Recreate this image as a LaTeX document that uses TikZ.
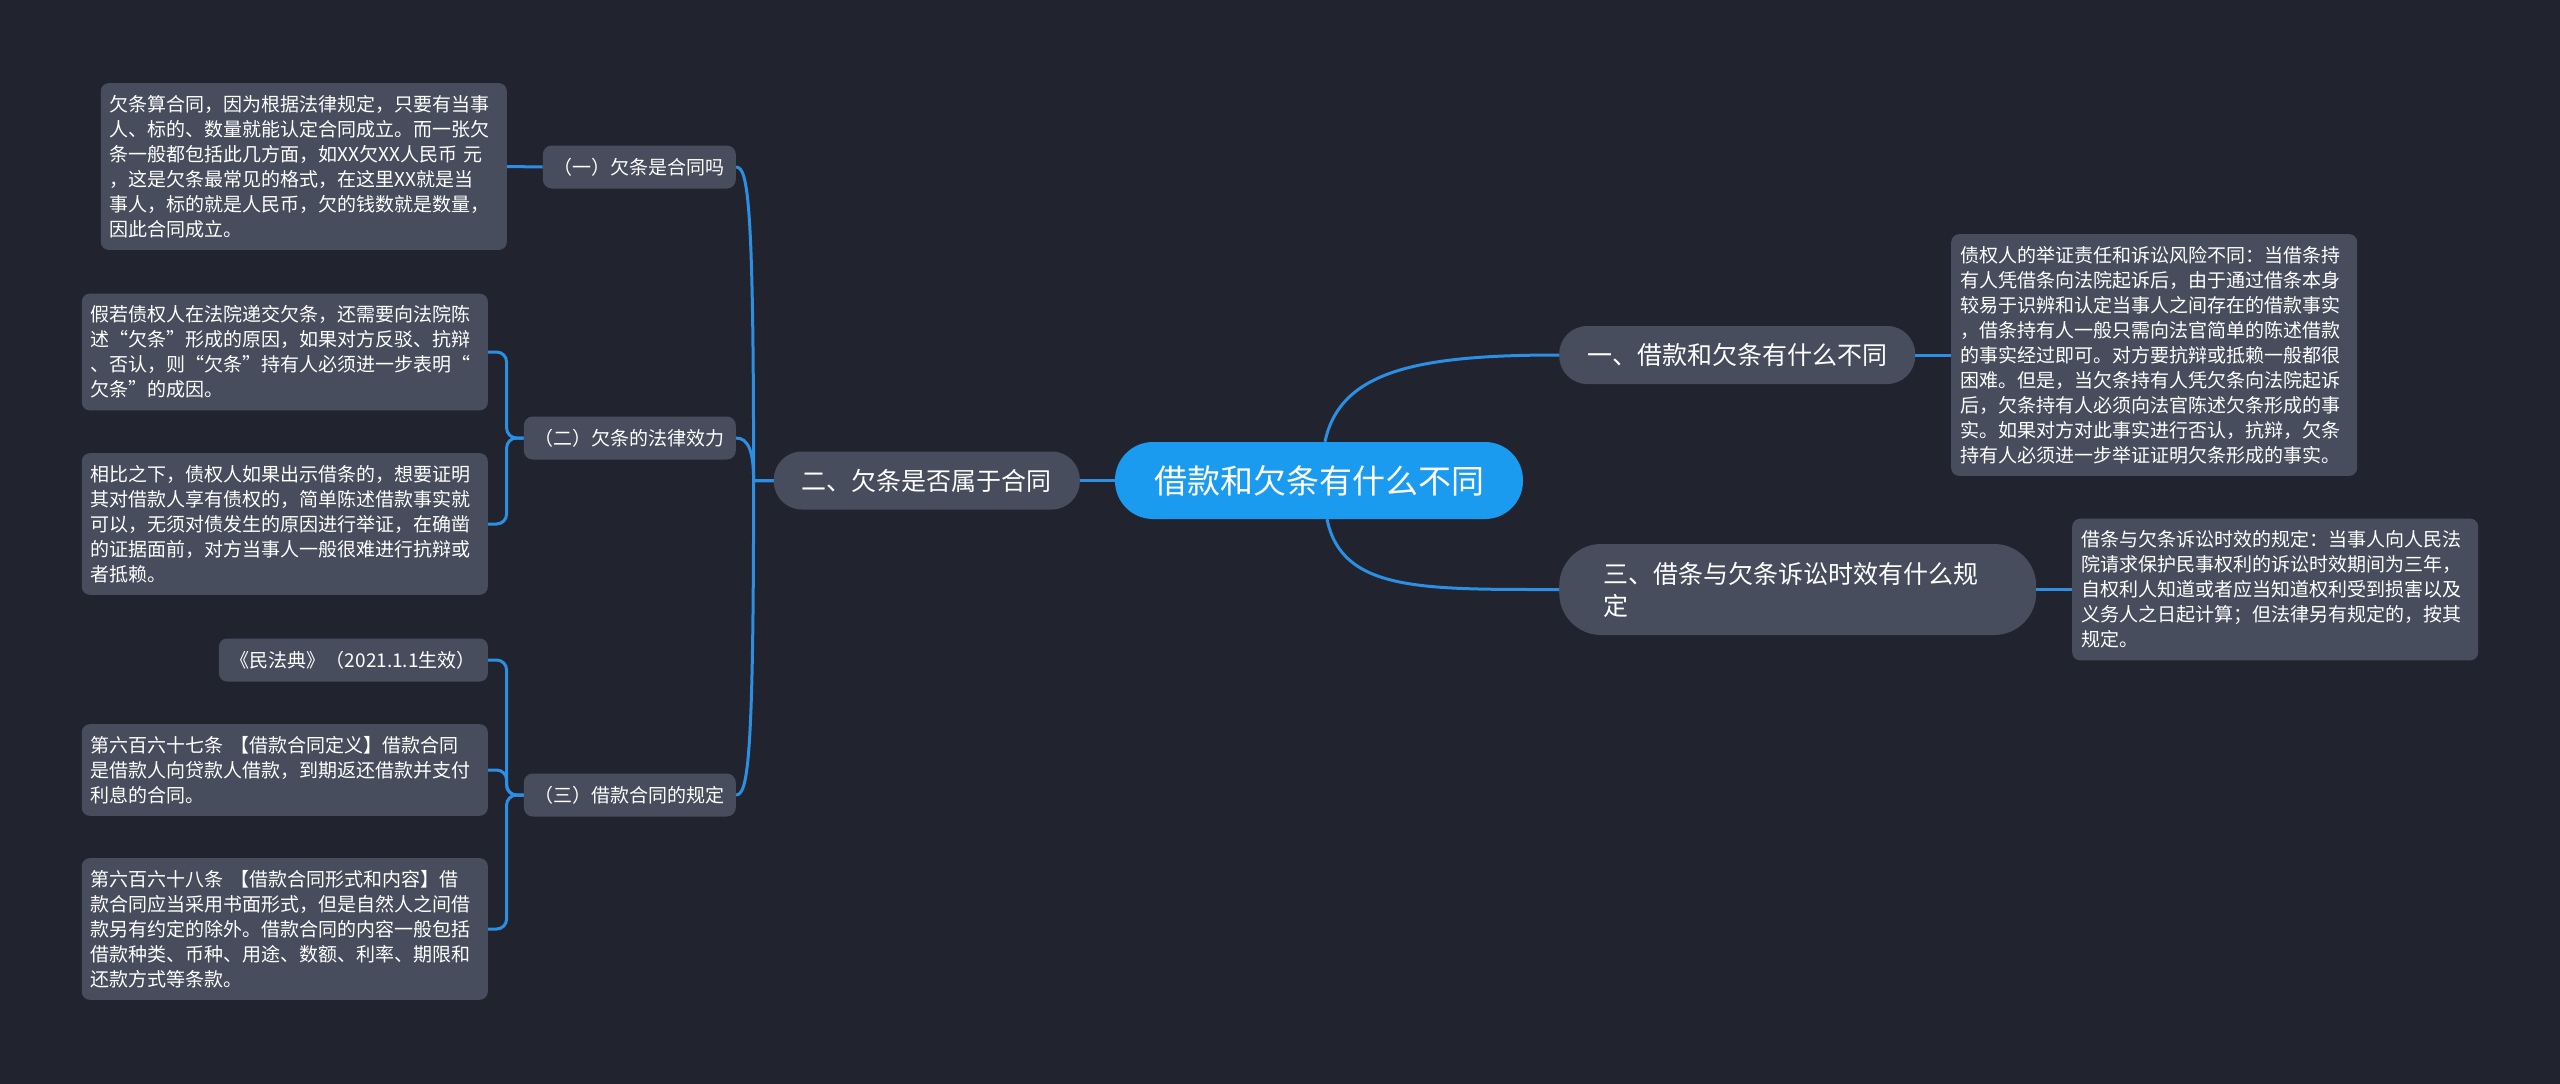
\documentclass[tikz,border=0pt]{standalone}
\usepackage{fontspec}
\setmainfont{Noto Sans CJK SC}
\usepackage{tikz}
\definecolor{bgdark}{HTML}{21242F}
\definecolor{nodegrey}{HTML}{474D5C}
\definecolor{rootblue}{HTML}{1A9BF0}
\definecolor{linkblue}{HTML}{2B8FE3}

\begin{document}
\begin{tikzpicture}[x=1pt,y=-1pt,
		root/.style={rounded corners=38pt,fill=rootblue,text=white,font=\fontsize{33}{40}\selectfont,
				minimum width=408pt,minimum height=77pt},
		topic/.style={rounded corners=28pt,fill=nodegrey,text=white,font=\fontsize{25}{32}\selectfont,
				minimum height=58pt,inner xsep=28pt},
		sub/.style={rounded corners=9pt,fill=nodegrey,text=white,font=\fontsize{19}{25}\selectfont,
				minimum height=43pt,inner xsep=11pt},
		note/.style={rounded corners=8pt,fill=nodegrey,text=white,font=\fontsize{19}{25}\selectfont,
				text width=388pt,align=left,inner xsep=9pt,inner ysep=12pt},
		link/.style={draw=linkblue,line width=3pt},
	]
	\fill[bgdark] (0,0) rectangle (2560,1084);

	% centre and right side
	\node[root] (root) at (1319,480.5) {借款和欠条有什么不同};
	\node[topic,anchor=west] (r1) at (1559,355) {一、借款和欠条有什么不同};
	\node[topic,anchor=west,rounded corners=42pt,minimum height=91pt,text width=389pt,align=left,inner xsep=44pt] (r3) at (1559,589.5) {三、借条与欠条诉讼时效有什么规\\定};
	\node[note,anchor=west] (r1t) at (1951,355) {债权人的举证责任和诉讼风险不同：当借条持\\有人凭借条向法院起诉后，由于通过借条本身\\较易于识辨和认定当事人之间存在的借款事实\\，借条持有人一般只需向法官简单的陈述借款\\的事实经过即可。对方要抗辩或抵赖一般都很\\困难。但是，当欠条持有人凭欠条向法院起诉\\后，欠条持有人必须向法官陈述欠条形成的事\\实。如果对方对此事实进行否认，抗辩，欠条\\持有人必须进一步举证证明欠条形成的事实。};
	\node[note,anchor=west] (r3t) at (2072,589.5) {借条与欠条诉讼时效的规定：当事人向人民法\\院请求保护民事权利的诉讼时效期间为三年，\\自权利人知道或者应当知道权利受到损害以及\\义务人之日起计算；但法律另有规定的，按其\\规定。};

	% left side
	\node[topic,anchor=east] (l2) at (1080,480.5) {二、欠条是否属于合同};
	\node[sub,anchor=east] (s1) at (736,167) {（一）欠条是合同吗};
	\node[sub,anchor=east] (s2) at (736,438) {（二）欠条的法律效力};
	\node[sub,anchor=east] (s3) at (736,795) {（三）借款合同的规定};
	\node[note,anchor=east] (t1) at (507,166.5) {欠条算合同，因为根据法律规定，只要有当事\\人、标的、数量就能认定合同成立。而一张欠\\条一般都包括此几方面，如XX欠XX人民币 元\\，这是欠条最常见的格式，在这里XX就是当\\事人，标的就是人民币，欠的钱数就是数量，\\因此合同成立。};
	\node[note,anchor=east] (t21) at (488,352) {假若债权人在法院递交欠条，还需要向法院陈\\述“欠条”形成的原因，如果对方反驳、抗辩\\、否认，则“欠条”持有人必须进一步表明“\\欠条”的成因。};
	\node[note,anchor=east] (t22) at (488,524) {相比之下，债权人如果出示借条的，想要证明\\其对借款人享有债权的，简单陈述借款事实就\\可以，无须对债发生的原因进行举证，在确凿\\的证据面前，对方当事人一般很难进行抗辩或\\者抵赖。};
	\node[sub,anchor=east,rounded corners=8pt,inner xsep=12pt] (t31) at (488,660) {《民法典》（2021.1.1生效）};
	\node[note,anchor=east] (t32) at (488,770) {第六百六十七条 【借款合同定义】借款合同\\是借款人向贷款人借款，到期返还借款并支付\\利息的合同。};
	\node[note,anchor=east] (t33) at (488,929) {第六百六十八条 【借款合同形式和内容】借\\款合同应当采用书面形式，但是自然人之间借\\款另有约定的除外。借款合同的内容一般包括\\借款种类、币种、用途、数额、利率、期限和\\还款方式等条款。};

	% connectors
	\draw[link] ([xshift=6pt]root.north) .. controls +(15,-72) and +(-139,0) .. (r1.west);
	\draw[link] ([xshift=8pt]root.south) .. controls +(15,72) and +(-139,0) .. (r3.west);
	\draw[link] (r1.east) -- (r1t.west);
	\draw[link] (r3.east) -- (r3t.west);
	\draw[link] (root.west) -- (l2.east);
	\draw[link] (l2.west) -- ++(-20,0) .. controls +(0,-280) and +(12,0) .. (s1.east);
	\draw[link] (l2.west) -- ++(-20,0) .. controls +(0,-30) and +(12,0) .. (s2.east);
	\draw[link] (l2.west) -- ++(-20,0) .. controls +(0,280) and +(12,0) .. (s3.east);
	\draw[link] (s1.west) -- (t1.east);
	\foreach \t in {t21,t22}
		\draw[link,rounded corners=10pt] (s2.west) -- ++(-17,0) |- (\t.east);
	\foreach \t in {t31,t32,t33}
		\draw[link,rounded corners=10pt] (s3.west) -- ++(-17,0) |- (\t.east);
\end{tikzpicture}
\end{document}
